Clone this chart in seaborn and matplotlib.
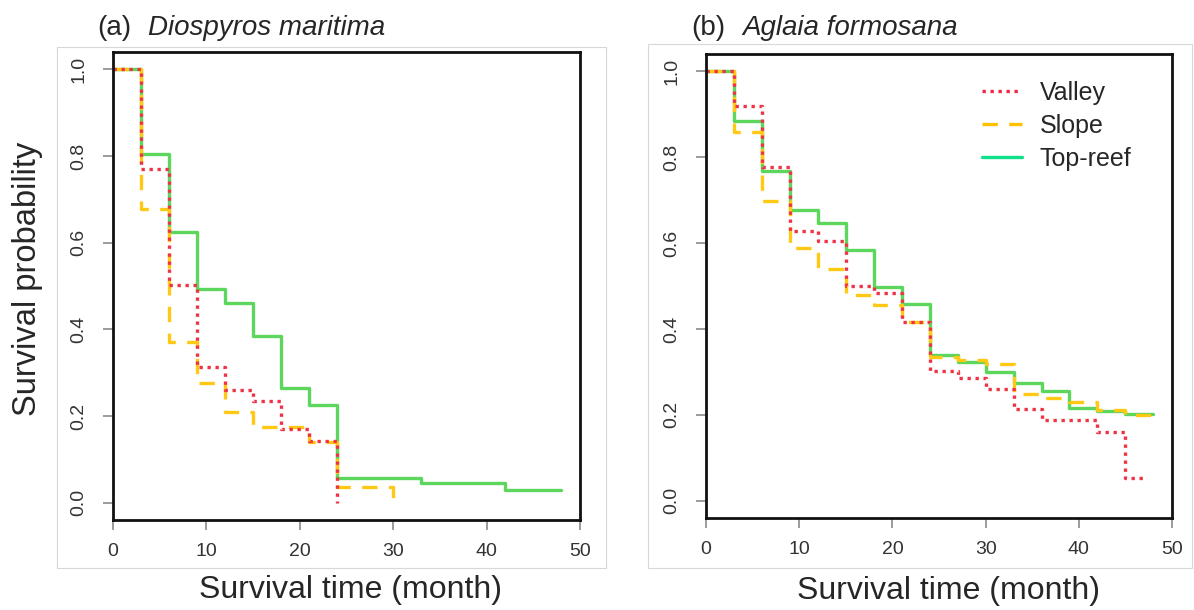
import matplotlib
matplotlib.use("Agg")
import matplotlib.pyplot as plt
from matplotlib.lines import Line2D
from matplotlib.patches import Rectangle
import seaborn as sns

# ---------------- data ----------------
a_valley_t = [0, 3, 6, 9, 12, 15, 18, 21, 24]
a_valley_s = [1.0, 0.769, 0.502, 0.314, 0.261, 0.234, 0.169, 0.143, 0.0]
a_slope_t = [0, 3, 6, 9, 12, 15, 21, 24, 30]
a_slope_s = [1.0, 0.677, 0.370, 0.277, 0.210, 0.174, 0.139, 0.035, 0.0]
a_top_t = [0, 3, 6, 9, 12, 15, 18, 21, 24, 33, 42, 48]
a_top_s = [1.0, 0.804, 0.624, 0.492, 0.461, 0.384, 0.265, 0.226, 0.058, 0.045, 0.030, 0.030]

b_valley_t = [0, 3, 6, 9, 12, 15, 18, 21, 24, 27, 30, 33, 36, 42, 45, 47]
b_valley_s = [1.0, 0.919, 0.777, 0.627, 0.605, 0.501, 0.484, 0.416, 0.302, 0.286,
              0.261, 0.213, 0.187, 0.160, 0.054, 0.054]
b_slope_t = [0, 3, 6, 9, 12, 15, 18, 21, 24, 27, 30, 33, 36, 39, 42, 45, 48]
b_slope_s = [1.0, 0.858, 0.699, 0.589, 0.539, 0.480, 0.455, 0.416, 0.335, 0.327,
             0.319, 0.248, 0.240, 0.230, 0.211, 0.199, 0.199]
b_top_t = [0, 3, 6, 9, 12, 15, 18, 21, 24, 27, 30, 33, 36, 39, 42, 45, 48]
b_top_s = [1.0, 0.883, 0.767, 0.677, 0.646, 0.584, 0.498, 0.459, 0.340, 0.323,
           0.300, 0.274, 0.255, 0.217, 0.209, 0.203, 0.203]

groups = ["Valley", "Slope", "Top-reef"]
x_ticks = [0, 10, 20, 30, 40, 50]
y_ticks = [0.0, 0.2, 0.4, 0.6, 0.8, 1.0]
titles = [("(a)", "Diospyros maritima"), ("(b)", "Aglaia formosana")]
x_label = "Survival time (month)"
y_label = "Survival probability"

# ---------------- style ----------------
sns.set_style("ticks")
plt.rcParams["font.family"] = ["Liberation Sans", "DejaVu Sans"]
for a in ("x", "y"):
    plt.rcParams[f"{a}tick.major.size"] = 7.5
    plt.rcParams[f"{a}tick.major.width"] = 1.1
    plt.rcParams[f"{a}tick.color"] = "#808080"
    plt.rcParams[f"{a}tick.labelcolor"] = "#333333"
    plt.rcParams[f"{a}tick.direction"] = "out"
    plt.rcParams[f"{a}tick.labelsize"] = 14
plt.rcParams["xtick.bottom"] = True
plt.rcParams["xtick.top"] = False
plt.rcParams["ytick.left"] = True
plt.rcParams["ytick.right"] = False
plt.rcParams["xtick.major.pad"] = 9
plt.rcParams["ytick.major.pad"] = 11

colors = {"Valley": "#EE3344", "Slope": "#FFC814", "Top-reef": "#5CD65C"}
legend_colors = {"Valley": "#F02848", "Slope": "#FFC000", "Top-reef": "#10E08C"}
styles = {"Valley": (0, (1.0, 1.4)), "Slope": (0, (4.6, 3.4)), "Top-reef": "-"}
LW = 2.4

fig = plt.figure(figsize=(11.94, 6.10), dpi=100)
W, H = 1194, 610

def fig_box(x0, y0, x1, y1):
    return [x0 / W, 1 - y1 / H, (x1 - x0) / W, (y1 - y0) / H]

ax_a = fig.add_axes(fig_box(112.7, 52, 580, 520))
ax_b = fig.add_axes(fig_box(706, 54, 1172, 518))

# faint frames around each embedded panel
for (x0, y0, x1, y1) in [(57, 47, 606, 568), (648, 44, 1192, 568)]:
    fig.patches.append(Rectangle((x0 / W, 1 - y1 / H), (x1 - x0) / W, (y1 - y0) / H,
                                 transform=fig.transFigure, fill=False,
                                 edgecolor="#d8d8d8", lw=0.8, zorder=0))

panels = [
    (ax_a, {"Valley": (a_valley_t, a_valley_s), "Slope": (a_slope_t, a_slope_s),
            "Top-reef": (a_top_t, a_top_s)}),
    (ax_b, {"Valley": (b_valley_t, b_valley_s), "Slope": (b_slope_t, b_slope_s),
            "Top-reef": (b_top_t, b_top_s)}),
]
xlabel_pos = [(0.508, -0.15), (0.521, -0.157)]

for i, (ax, series) in enumerate(panels):
    for g in ["Top-reef", "Slope", "Valley"]:
        t, s = series[g]
        sns.lineplot(x=t, y=s, ax=ax, color=colors[g], linewidth=LW,
                     linestyle=styles[g], drawstyle="steps-post",
                     estimator=None, errorbar=None, sort=False, legend=False)
    ax.set_xlim(0, 50)
    ax.set_ylim(-0.04, 1.04)
    ax.set_xticks(x_ticks)
    ax.set_xticklabels([str(v) for v in x_ticks])
    ax.set_yticks(y_ticks)
    ax.set_yticklabels([f"{v:.1f}" for v in y_ticks], rotation=90, va="center")
    for sp in ax.spines.values():
        sp.set_visible(True)
        sp.set_color("#111111")
        sp.set_linewidth(2.0)
    ax.set_xlabel(x_label, fontsize=23)
    ax.xaxis.set_label_coords(*xlabel_pos[i])
    ax.xaxis.label.set_va("center")
    if i == 0:
        ax.set_ylabel(y_label, fontsize=23.5)
        ax.yaxis.set_label_coords(-0.182, 0.515)
        ax.yaxis.label.set_va("center")
    else:
        ax.set_ylabel("")
    tag, name = titles[i]
    tx = 97 if i == 0 else 691.7
    fig.text(tx / W, 1 - 35 / H, tag, fontsize=20, ha="left", va="baseline")
    fig.text((tx + 51) / W, 1 - 35 / H, name, fontsize=20, style="italic",
             ha="left", va="baseline")

handles = [Line2D([0], [0], color=legend_colors[g], lw=LW, linestyle=styles[g])
           for g in groups]
ax_b.legend(handles, groups, loc="upper left", bbox_to_anchor=(0.592, 0.9425),
            frameon=False, fontsize=18, handlelength=1.6, handletextpad=0.72,
            labelspacing=0.36, borderpad=0, borderaxespad=0)

fig.savefig("out.png", dpi=100, facecolor="white")
